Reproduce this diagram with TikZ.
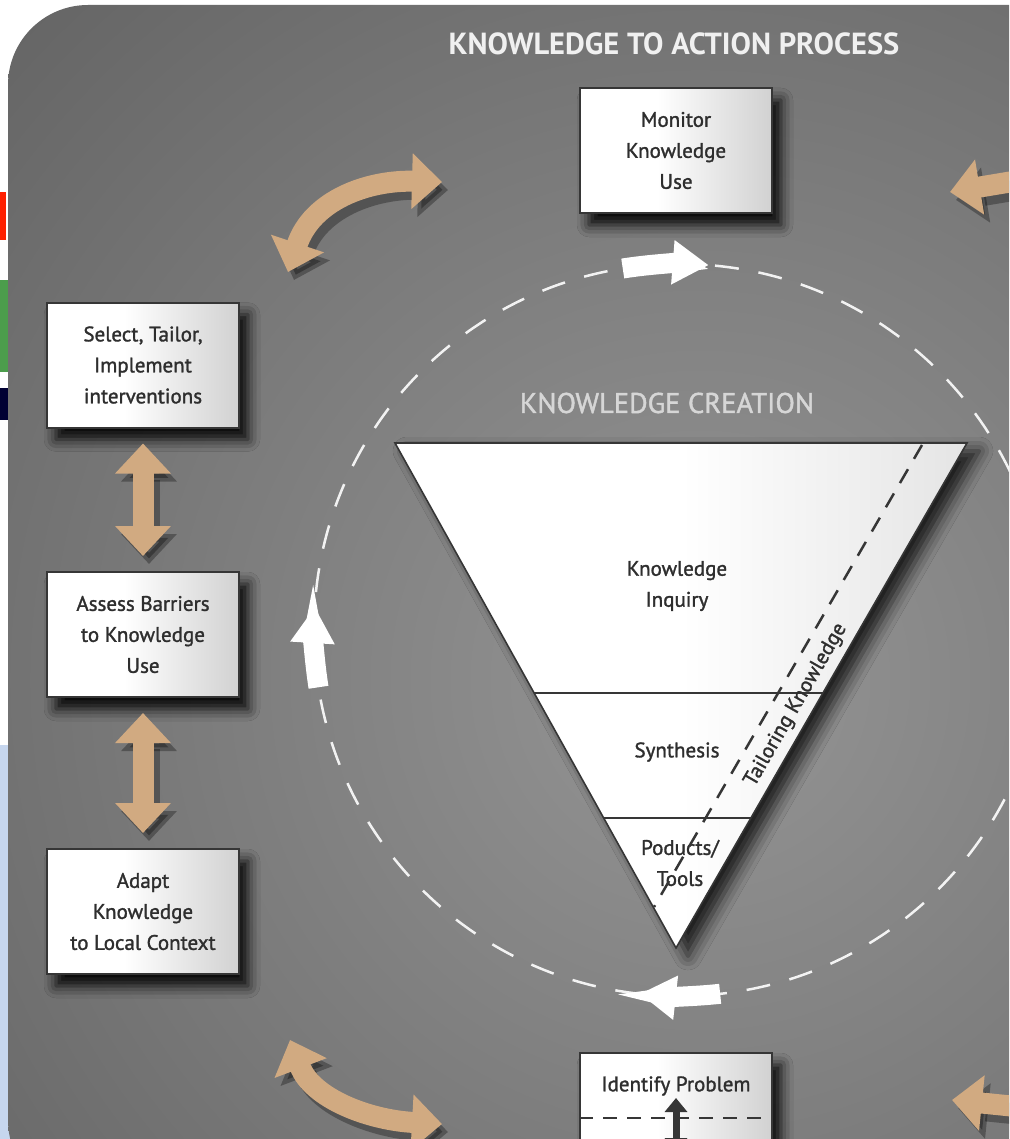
\documentclass[tikz,border=0pt]{standalone}
\usepackage{fontspec}
\setmainfont{PT Sans}
\newfontfamily\boxfont{PT Sans}[BoldFont=PT Sans, BoldFeatures={FakeBold=1.4}]
\usetikzlibrary{arrows.meta,calc,positioning,shadows.blur}

\definecolor{panelhi}{HTML}{959595}
\definecolor{panellow}{HTML}{4A4A4A}
\definecolor{boxgray}{HTML}{ABABAB}
\definecolor{trigray}{HTML}{CACACA}
\definecolor{boxline}{HTML}{363636}
\definecolor{boxtext}{HTML}{2E2E2E}
\definecolor{tanc}{HTML}{D1AA81}
\definecolor{webblue}{HTML}{C6D6EE}

\pgfdeclareradialshading{panelglow}{\pgfpoint{0bp}{0bp}}{color(0bp)=(panelhi); color(50bp)=(panellow)}
\pgfdeclarehorizontalshading{boxglow}{100bp}{color(0bp)=(white); color(45bp)=(white); color(100bp)=(boxgray)}
\pgfdeclarehorizontalshading{triglow}{100bp}{color(0bp)=(white); color(50bp)=(white); color(100bp)=(trigray)}

\tikzset{
  kbox/.style={draw=boxline, line width=2pt, shade, shading=boxglow, text=boxtext,
    align=center, minimum width=192pt, minimum height=125pt,
    font=\boxfont\bfseries\fontsize{21}{31}\selectfont,
    blur shadow={shadow xshift=9pt, shadow yshift=-12pt, shadow blur radius=12pt, shadow opacity=95}},
  tritext/.style={text=boxtext, align=center, font=\boxfont\bfseries\fontsize{21}{31}\selectfont},
  tanarrow/.style={draw=tanc, line width=21pt,
    {Triangle[length=30pt,width=54pt]}-{Triangle[length=30pt,width=54pt]}},
  tanhead/.style={draw=tanc, line width=21pt, -{Triangle[length=30pt,width=54pt]}},
  tanshadow/.style={draw=black, opacity=0.3, transform canvas={shift={(6pt,-8pt)}}},
  flowarrow/.style={draw=white, line width=20pt, -{Triangle[length=36pt,width=42pt]}},
  flowcircle/.style={draw=white, line width=2.5pt, dash pattern=on 24pt off 20pt, opacity=0.9},
  darkdash/.style={draw=boxline, line width=2.5pt, dash pattern=on 16pt off 12pt}
}

\begin{document}
\begin{tikzpicture}[x=1pt,y=-1pt]

  % page
  \clip (0,0) rectangle (1009,1139);
  \fill[white] (0,0) rectangle (1009,1139);
  \fill[webblue] (0,745) rectangle (14,1139);
  \fill[red!75!orange] (0,192) rectangle (6,240);
  \fill[green!45!black!70] (0,280) rectangle (8,372);
  \fill[black!80!blue] (0,388) rectangle (8,420);

  % grey panel
  \begin{scope}
    \clip[rounded corners=80pt] (8,1200) -- (8,5) -- (1100,5) -- (1100,1200) -- cycle;
    \shade[shading=panelglow] (-50,-70) rectangle (1450,1430);
  \end{scope}

  \node[text=white!94!black, font=\bfseries\fontsize{30.5}{34}\selectfont] (title) at (674,44) {KNOWLEDGE TO ACTION PROCESS};

  % knowledge creation cycle
  \coordinate (c) at (680,630);
  \draw[flowcircle] (c) circle[radius=366];
  \node[text=white!84!black, font=\boxfont\bfseries\fontsize{28.5}{32}\selectfont] (kc) at (667,403) {KNOWLEDGE CREATION};

  % funnel
  \coordinate (tl) at (395,443);
  \coordinate (tr) at (967,443);
  \coordinate (tb) at (676,948);
  \draw[draw=boxline, line width=1.6pt, shade, shading=triglow,
    blur shadow={shadow xshift=12pt, shadow yshift=-8pt, shadow blur radius=14pt, shadow opacity=80}]
    (tl) -- (tr) -- (tb) -- cycle;
  \draw[boxline, line width=1.6pt] ($(tl)!0.495!(tb)$) -- ($(tr)!0.495!(tb)$);
  \draw[boxline, line width=1.6pt] ($(tl)!0.7426!(tb)$) -- ($(tr)!0.7426!(tb)$);
  \coordinate (dtop) at (922,445);
  \coordinate (dend) at (654,907);
  \node[tritext] (inquiry) at (677,586) {Knowledge\\Inquiry};
  \node[tritext] (synth) at (677,752) {Synthesis};
  \node[tritext] (prods) at (680,863) {Poducts/\\Tools};
  \node[tritext, rotate=60] (tailor) at (796,705) {Tailoring Knowledge};
  \draw[darkdash] (dtop) -- (dend);

  % action cycle boxes
  \node[kbox] (monitor) at (676,150.5) {Monitor\\Knowledge\\Use};
  \node[kbox] (select) at (143,365) {Select, Tailor,\\Implement\\interventions};
  \node[kbox] (assess) at (143,634.5) {Assess Barriers\\to Knowledge\\Use};
  \node[kbox] (adapt) at (143,911.5) {Adapt\\Knowledge\\to Local Context};
  \node[kbox, anchor=north] (identify) at (676,1052) {};
  \node[tritext] (idtext) at ([yshift=-34pt]identify.north) {Identify Problem};
  \draw[darkdash, dash pattern=on 14pt off 10pt] ([yshift=-66pt]identify.north west) -- ([yshift=-66pt]identify.north east);
  \draw[boxline, line width=7pt, {Triangle[length=14pt,width=22pt]}-{Triangle[length=14pt,width=22pt]}]
    ([yshift=-46pt]identify.north) -- ([yshift=-100pt]identify.north);

  % tan arrows between the steps
  \coordinate (ulA) at (288,272);
  \coordinate (ulB) at (442,182);
  \coordinate (llA) at (290,1040);
  \coordinate (llB) at (442,1124);
  \coordinate (urIn) at (1070,172);
  \coordinate (urB) at (950,192);
  \coordinate (lrIn) at (1070,1112);
  \coordinate (lrB) at (952,1100);

  \draw[tanarrow, tanshadow] ([yshift=-15pt]select.south) -- ([yshift=15pt]assess.north);
  \draw[tanarrow, tanshadow] ([yshift=-15pt]assess.south) -- ([yshift=15pt]adapt.north);
  \draw[tanarrow, tanshadow] (ulA) .. controls (312,200) and (368,180) .. (ulB);
  \draw[tanarrow, tanshadow] (llA) .. controls (312,1098) and (368,1120) .. (llB);
  \draw[tanhead, tanshadow] (urIn) -- (urB);
  \draw[tanhead, tanshadow] (lrIn) -- (lrB);

  \draw[tanarrow] ([yshift=-15pt]select.south) -- ([yshift=15pt]assess.north);
  \draw[tanarrow] ([yshift=-15pt]assess.south) -- ([yshift=15pt]adapt.north);
  \draw[tanarrow] (ulA) .. controls (312,200) and (368,180) .. (ulB);
  \draw[tanarrow] (llA) .. controls (312,1098) and (368,1120) .. (llB);
  \draw[tanhead] (urIn) -- (urB);
  \draw[tanhead] (lrIn) -- (lrB);

  % white flow arrows on the circle
  \draw[flowarrow] (c) ++(261:366) arc[start angle=261, end angle=274.5, radius=366];
  \draw[flowarrow] (c) ++(171:366) arc[start angle=171, end angle=183.6, radius=366];
  \draw[flowarrow] (c) ++(83.7:366) arc[start angle=83.7, end angle=96.3, radius=366];

\end{tikzpicture}
\end{document}
